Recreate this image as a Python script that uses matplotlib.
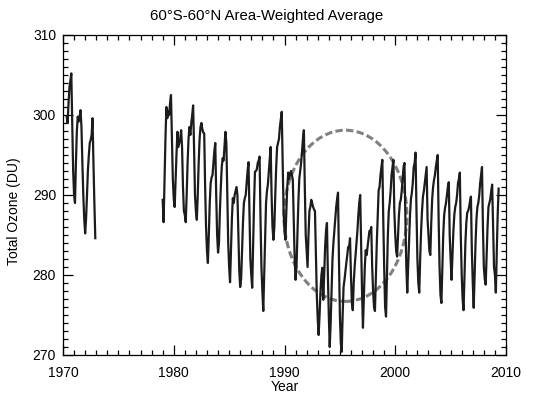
import numpy as np
import matplotlib
matplotlib.use("Agg")
import matplotlib.pyplot as plt
from matplotlib.patches import Ellipse
from matplotlib.ticker import MultipleLocator

# monthly total ozone (DU), early record May 1970 - Dec 1972
early_start = 1970 + 4 / 12
early_ozone = [
    299.8, 299.0, 301.5, 303.5, 304.3, 305.2, 299.0, 293.0,                   # 1970
    290.0, 289.0, 294.0, 298.0, 299.8, 299.2, 299.8, 300.6, 298.5, 294.0, 290.0, 287.0,  # 1971
    285.2, 287.0, 290.0, 293.1, 295.0, 296.5, 296.9, 297.5, 299.6, 294.0, 289.0, 284.6,  # 1972
]

# monthly total ozone (DU), Jan 1979 - May 2009
late_start = 1979.0
ozone_1979_1989 = [
    289.4, 286.6, 292.0, 297.0, 301.0, 299.6, 300.5, 300.0, 301.5, 302.5, 297.0, 292.0,  # 1979
    289.5, 288.5, 292.0, 295.2, 297.9, 296.0, 296.5, 297.0, 298.1, 296.0, 291.0, 288.0,  # 1980
    287.5, 286.6, 290.0, 294.0, 297.0, 298.5, 297.5, 299.0, 300.0, 301.2, 296.0, 290.0,  # 1981
    288.0, 286.9, 290.0, 294.0, 297.0, 298.5, 299.0, 298.2, 297.8, 297.7, 291.0, 286.0,  # 1982
    283.0, 281.5, 285.0, 289.0, 291.5, 292.2, 292.5, 294.0, 295.5, 296.5, 290.0, 285.0,  # 1983
    282.8, 284.0, 288.0, 291.0, 293.5, 294.6, 294.3, 296.0, 297.9, 296.5, 290.0, 284.0,  # 1984
    281.0, 279.1, 283.0, 287.0, 289.6, 289.0, 290.0, 290.5, 291.0, 290.0, 285.0, 280.5,  # 1985
    278.5, 279.5, 283.0, 286.5, 289.0, 289.6, 290.0, 291.5, 293.0, 294.1, 288.0, 282.0,  # 1986
    280.0, 278.4, 284.0, 289.0, 292.9, 293.0, 293.2, 294.0, 294.3, 294.8, 287.0, 281.0,  # 1987
    278.0, 275.5, 280.0, 285.0, 289.0, 290.5, 291.3, 293.0, 294.5, 296.0, 290.0, 286.0,  # 1988
    284.4, 286.0, 290.0, 293.5, 296.0, 296.5, 297.0, 298.5, 299.5, 300.4, 294.0, 288.0,  # 1989
]
ozone_1990_1999 = [
    285.5, 284.4, 288.0, 291.0, 292.8, 292.0, 292.5, 293.0, 292.5, 291.9, 287.0, 282.0,  # 1990
    279.4, 281.0, 285.0, 289.0, 292.0, 293.0, 294.0, 295.5, 297.0, 298.1, 291.0, 285.0,  # 1991
    283.0, 281.0, 285.0, 288.0, 288.5, 289.4, 289.0, 288.5, 288.2, 288.0, 283.0, 277.5,  # 1992
    274.5, 272.5, 275.0, 278.0, 280.0, 280.9, 276.9, 280.0, 283.5, 285.5, 286.5, 280.0,  # 1993
    275.0, 271.0, 274.0, 278.0, 282.0, 284.0, 285.5, 287.0, 288.5, 289.5, 290.3, 282.0,  # 1994
    275.0, 271.5, 270.4, 275.0, 278.5, 279.4, 280.5, 281.5, 282.5, 283.5, 283.5, 284.6,  # 1995
    280.0, 276.5, 275.6, 279.0, 281.0, 282.5, 284.0, 285.5, 287.5, 289.0, 290.0, 284.0,  # 1996
    278.0, 273.4, 277.0, 281.0, 283.1, 282.5, 283.5, 284.5, 285.5, 285.5, 286.0, 281.0,  # 1997
    278.0, 276.0, 275.5, 280.0, 284.0, 287.5, 290.6, 291.0, 292.5, 293.5, 294.4, 287.0,  # 1998
    281.0, 276.0, 274.8, 280.0, 285.0, 288.0, 289.0, 290.5, 292.5, 293.5, 294.4, 288.0,  # 1999
]
ozone_2000_2009 = [
    285.0, 283.0, 282.3, 285.0, 287.5, 289.0, 289.4, 290.5, 292.0, 293.5, 294.0, 287.0,  # 2000
    281.0, 277.8, 281.0, 284.5, 287.5, 289.5, 290.3, 291.5, 293.5, 294.0, 295.3, 288.0,  # 2001
    282.0, 279.0, 277.8, 282.0, 285.5, 288.0, 289.8, 290.5, 291.5, 292.5, 293.5, 287.0,  # 2002
    285.0, 283.0, 282.5, 286.5, 289.5, 291.0, 291.9, 292.5, 293.5, 294.3, 295.0, 287.0,  # 2003
    281.0, 277.5, 276.5, 281.0, 285.0, 287.5, 288.4, 289.0, 290.0, 291.0, 291.6, 285.0,  # 2004
    282.0, 279.4, 282.5, 285.5, 287.5, 288.5, 289.0, 290.0, 291.5, 292.0, 292.8, 285.0,  # 2005
    280.0, 277.0, 275.6, 280.0, 284.0, 286.5, 287.8, 288.0, 288.5, 289.2, 289.8, 283.0,  # 2006
    279.0, 275.9, 280.0, 284.0, 287.0, 288.5, 289.0, 290.0, 291.5, 292.5, 293.5, 286.0,  # 2007
    281.0, 279.5, 278.8, 282.5, 286.0, 288.5, 289.0, 289.5, 290.5, 291.3, 286.0, 281.0,  # 2008
    280.0, 277.8, 283.0, 287.5, 290.8,                                                    # 2009
]

# dashed ellipse highlighting the 1990s minimum
ellipse_center = (1995.5, 287.4)
ellipse_width = 11.1   # years
ellipse_height = 21.4  # DU

plt.rcParams["font.family"] = ["Liberation Sans", "DejaVu Sans"]

fig = plt.figure(figsize=(5.34, 3.96), dpi=100)
ax = fig.add_axes([63 / 534, 1 - 355 / 396, (506 - 63) / 534, (355 - 35) / 396])

late_ozone = ozone_1979_1989 + ozone_1990_1999 + ozone_2000_2009
t_early = early_start + np.arange(len(early_ozone)) / 12
t_late = late_start + np.arange(len(late_ozone)) / 12

ax.plot(t_early, early_ozone, color="#1c1c1c", lw=1.6, solid_joinstyle="round")
ax.plot(t_late, late_ozone, color="#1c1c1c", lw=1.6, solid_joinstyle="round")

ell = Ellipse(ellipse_center, ellipse_width, ellipse_height, fill=False,
              edgecolor="#808080", lw=2.2, linestyle=(0, (2.4, 1.1)))
ax.add_patch(ell)

ax.set_xlim(1970, 2010)
ax.set_ylim(270, 310)
ax.xaxis.set_major_locator(MultipleLocator(10))
ax.xaxis.set_minor_locator(MultipleLocator(1))
ax.yaxis.set_major_locator(MultipleLocator(10))
ax.yaxis.set_minor_locator(MultipleLocator(1))
ax.tick_params(which="both", direction="in", top=True, right=True,
               labelsize=10, width=0.9)
ax.tick_params(axis="x", pad=8)
ax.tick_params(axis="y", pad=5)
ax.tick_params(which="major", length=7)
ax.tick_params(which="minor", length=3.5)
for s in ax.spines.values():
    s.set_linewidth(0.9)

ax.set_xlabel("Year", fontsize=10, labelpad=0)
ax.set_ylabel("Total Ozone (DU)", fontsize=10)
ax.yaxis.set_label_coords(-0.095, 0.45)
fig.text(0.5, 1 - 16 / 396, "60°S-60°N Area-Weighted Average",
         ha="center", va="center", fontsize=10.8)

fig.savefig("out.png", dpi=100)
